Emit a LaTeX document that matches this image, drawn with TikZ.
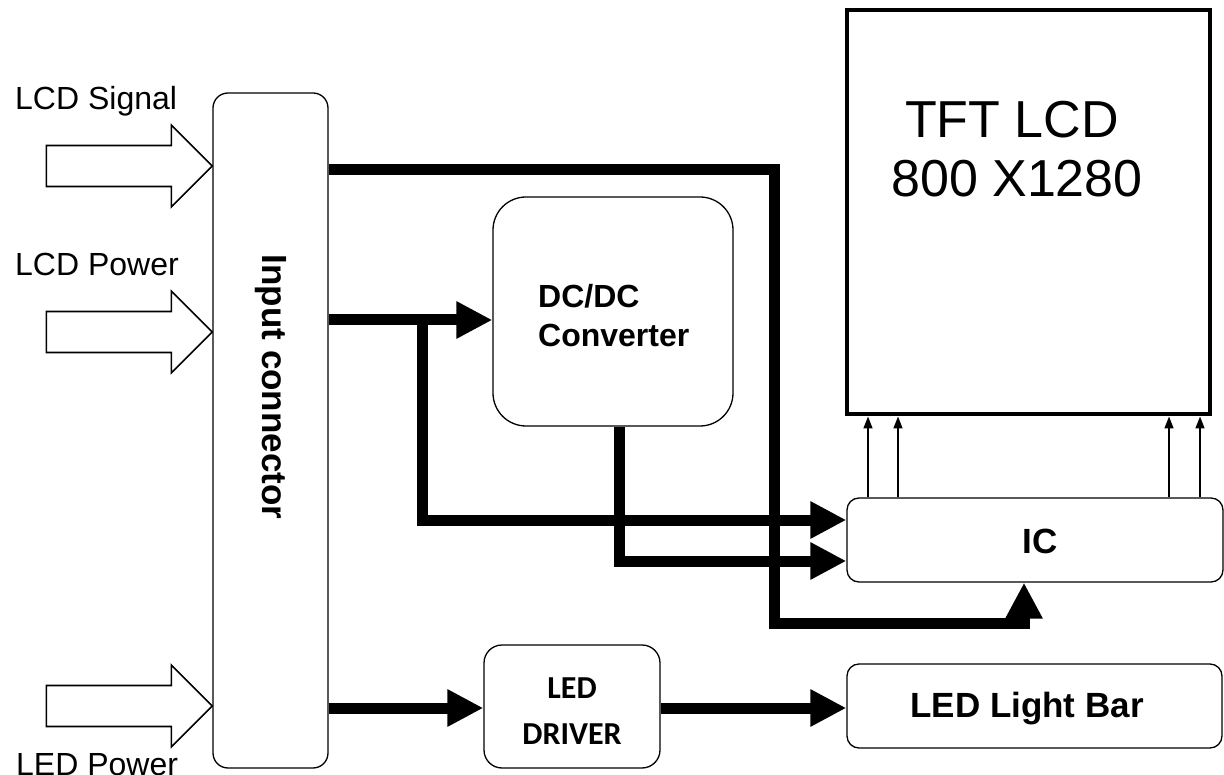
\documentclass[tikz,border=0pt]{standalone}
\usepackage{fontspec}
\setmainfont{Liberation Sans}
\newfontfamily\calibri{Carlito}
\usetikzlibrary{arrows.meta}
\begin{document}
\begin{tikzpicture}[x=1pt,y=-1pt,
  box/.style={draw, line width=1.3pt, rounded corners=#1, inner sep=0pt},
  box/.default=14pt,
  bus/.style={line width=11pt, line join=miter, -{Triangle[length=36pt,width=35pt]}},
  sig/.style={line width=1.6pt, -{Triangle[length=12pt,width=9pt]}},
  hollow/.style={draw, line width=1.6pt, line join=miter, fill=white},
  lbl/.style={font=\fontsize{32}{36}\selectfont, inner sep=0pt},
  bold/.style={font=\fontsize{#1}{#1}\selectfont\bfseries, inner sep=0pt},
  drv/.style={font=\fontsize{32}{32}\selectfont\calibri\bfseries, inner sep=0pt, anchor=base},
]
\useasboundingbox (0,0) rectangle (1224,775);
\clip (0,0) rectangle (1224,775);

% boxes
\node[box=15pt, minimum width=115pt, minimum height=675pt] (inconn) at (270.5,430.5) {};
\node[box=33pt, minimum width=240pt, minimum height=229pt] (dcdc) at (613,311.5) {};
\node[draw, line width=4pt, minimum width=363pt, minimum height=404pt, inner sep=0pt] (tft) at (1028.5,212.5) {};
\node[box=12pt, minimum width=376pt, minimum height=84pt] (ic) at (1035,540) {};
\node[box=18pt, minimum width=176pt, minimum height=123pt] (leddrv) at (572,706.5) {};
\node[box=12pt, minimum width=375pt, minimum height=84pt] (ledbar) at (1034.5,706) {};

% hollow input arrows
\foreach \y in {166,332,706}
  \draw[hollow] (inconn.west |- 0,\y) -- ++(-41,-41) -- ++(0,20.5) -- ++(-125,0)
     -- ++(0,41) -- ++(125,0) -- ++(0,20.5) -- cycle;

% thick buses
\coordinate (br) at (422,320);
\draw[bus] (inconn.east |- 0,170) -- (774,170) -- (774,623) -- (1024,623) -- (ic.south -| 1024,0);
\draw[bus] (inconn.east |- 0,320) -- (dcdc.west |- 0,320);
\draw[bus] (br) -- (422,520) -- (ic.west |- 0,520);
\draw[bus] (dcdc.south -| 619,0) -- (619,561) -- (ic.west |- 0,561);
\draw[bus] (inconn.east |- 0,708) -- (leddrv.west |- 0,708);
\draw[bus] (leddrv.east |- 0,708) -- (ledbar.west |- 0,708);

% thin signal arrows IC -> TFT
\foreach \x in {868,898,1169,1200}
  \draw[sig] (ic.north -| \x,0) -- (tft.south -| \x,0);

% texts
\node[lbl, anchor=base west] (t1) at (15,110) {LCD Signal};
\node[lbl, anchor=base west] (t2) at (15,276) {LCD Power};
\node[lbl, anchor=base west] (t3) at (16,775) {LED Power};
\node[bold=35, rotate=-90] (tin) at (271,387) {Input connector};
\node[bold=32, anchor=base west] (tdc1) at (538,308) {DC/DC};
\node[bold=32, anchor=base west] (tdc2) at (538,347) {Converter};
\node[font=\fontsize{52}{60}\selectfont, inner sep=0pt, anchor=base] (tft1) at (1012,138) {TFT LCD};
\node[font=\fontsize{52}{60}\selectfont, inner sep=0pt, anchor=base] (tft2) at (1017,197) {800 X1280};
\node[bold=35, anchor=base] (tic) at (1040,553) {IC};
\node[bold=35, anchor=base] (tbar) at (1027,717) {LED Light Bar};
\node[drv] (tled1) at (572,698) {LED};
\node[drv] (tled2) at (572,744) {DRIVER};
\end{tikzpicture}
\end{document}
